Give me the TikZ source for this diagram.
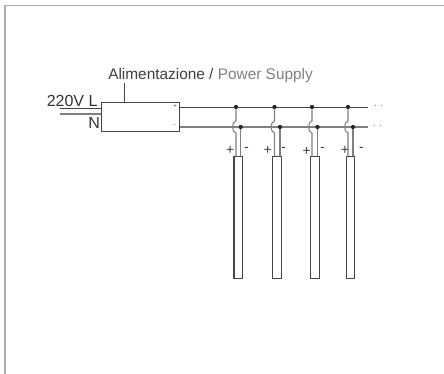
\documentclass[tikz,border=0pt]{standalone}
\usepackage{fontspec}
\setmainfont{Liberation Sans}
\definecolor{wd}{gray}{0.28}
\definecolor{wg}{gray}{0.5}
\definecolor{fr}{gray}{0.68}
\tikzset{
  x=0.75pt,y=-0.75pt,
  lab/.style={inner sep=0pt,anchor=base west,text=black!80,font=\fontsize{12}{14}\selectfont},
  ttl/.style={inner sep=0pt,anchor=base west,text=black!75,font=\fontsize{11.55}{14}\selectfont},
  signp/.style={inner sep=0pt,text=black!75,font=\fontsize{10.5}{10}\selectfont},
  signm/.style={inner sep=0pt,text=black!80,font=\fontsize{10}{10}\selectfont},
  tiny/.style={inner sep=0pt,text=wd,font=\fontsize{5}{5}\selectfont},
  wire/.style={line width=0.65pt,draw=wd},
  gwire/.style={line width=0.8pt,draw=wg},
  jdot/.style={circle,fill=black!85,inner sep=0pt,minimum size=3.2pt},
  dotsl/.style={inner sep=0pt,anchor=base,text=wg,font=\fontsize{8}{8}\selectfont}
}
\begin{document}
\begin{tikzpicture}
\useasboundingbox (0,0) rectangle (444,374);
\fill[white] (0,0) rectangle (444,374);
\draw[fr,line width=1.1pt] (5,374) -- (5,5.5) -- (444,5.5);
% supply
\node[draw=wd,line width=0.75pt,minimum width=58.5pt,minimum height=21.75pt,inner sep=0pt,anchor=north west] (psu) at (101,102) {};
\coordinate (lab) at (124.3,83);
\draw[wire] (lab) -- (lab |- psu.north);
\node[ttl] (title) at (108,79.5) {Alimentazione / \textcolor{gray}{Power Supply}};
\node[lab] (v) at (46.5,106.5) {220V L};
\node[lab] (n) at (88,129) {N};
\coordinate (inL) at (60,108.3);
\coordinate (inN) at (60,114);
\draw[wire] (inL) -- (inL -| psu.west);
\draw[gwire] (inN) -- (inN -| psu.west);
\node[tiny] (pl) at (175,107) {+};
\node[tiny] (mi) at (174.5,125.5) {-};
% buses
\coordinate (bt) at (368,107);
\coordinate (bb) at (368,127);
\draw[wire] (psu.east |- bt) -- (bt);
\draw[gwire] (psu.east |- bb) -- (bb);
\node[dotsl] (d1) at (378.5,106.5) {.\,\,.};
\node[dotsl] (d2) at (377.5,127) {.\,\,.};
% branches
\foreach \i/\a/\b/\pl/\py/\ml in {1/236/240.7/230.3/150.3/246.7, 2/274.5/280/267.7/150.3/283.7, 3/312/317.5/306.7/151.7/322.7, 4/348/353/345/150.3/361.3}{
  \node[jdot] (t\i) at (\a,107) {};
  \node[jdot] (b\i) at (\b,127) {};
  \node[draw=wd,line width=0.8pt,minimum width=6.5pt,minimum height=91.5pt,inner sep=0pt,anchor=north] (r\i) at ({(\a+\b)/2},156) {};
  \draw[gwire] (t\i) -- (\a,121) .. controls (\a-4.5,122) and (\a-4.5,132) .. (\a,133) -- (\a,156);
  \draw[gwire] (b\i) -- (\b,156);
  \node[signp] (p\i) at (\pl,\py) {+};
  \node[signm] (m\i) at (\ml,149.5) {-};
}
\end{tikzpicture}
\end{document}
